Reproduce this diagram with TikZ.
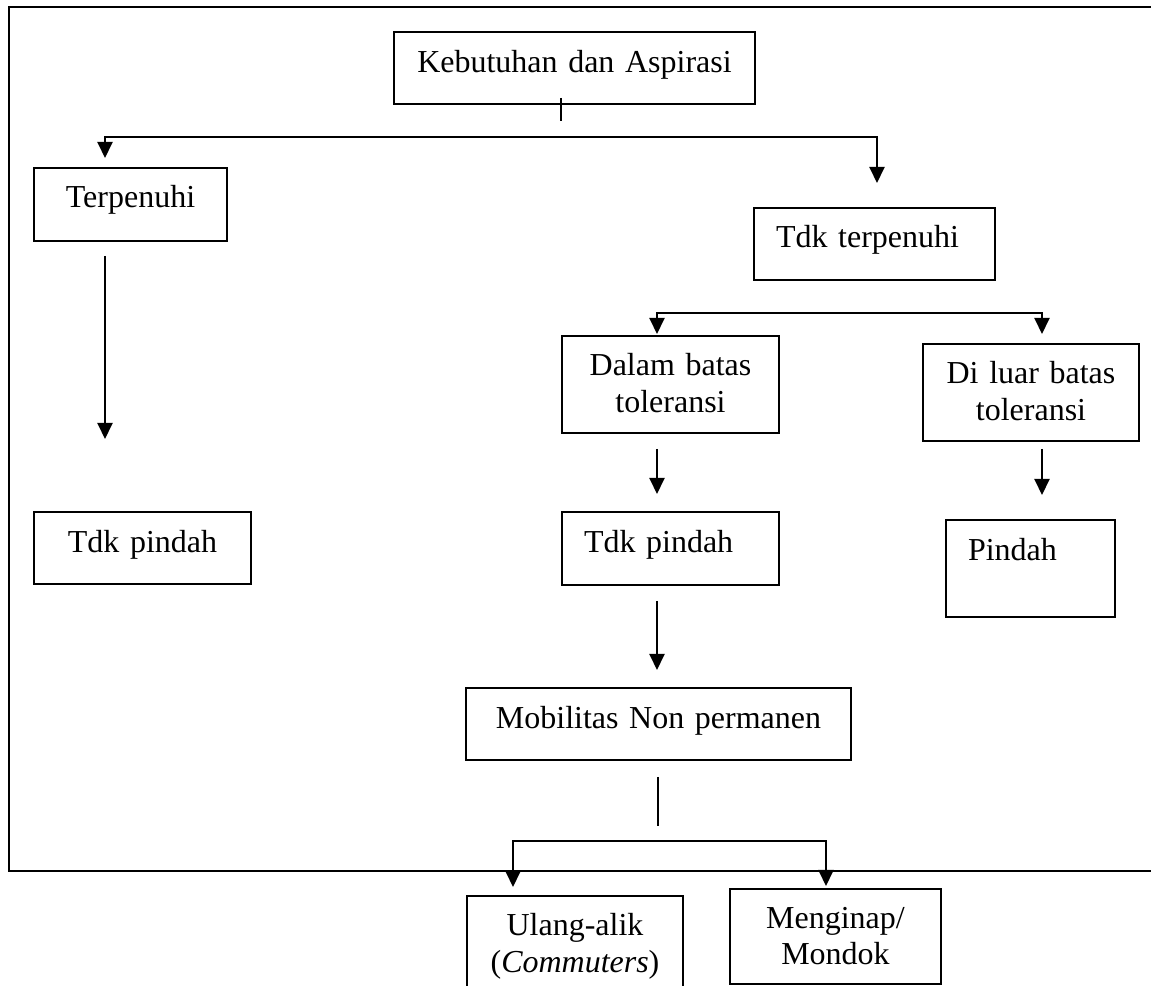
\documentclass[tikz,border=0pt]{standalone}
\usepackage{fontspec}
\setmainfont{Liberation Serif}
\usepackage{tikz}
\usetikzlibrary{positioning, calc, arrows.meta}

\begin{document}
\begin{tikzpicture}[x=0.2mm, y=-0.2mm,
    >={Triangle[width=3mm, length=3.2mm]},
    garis/.style={line width=0.4mm},
    kotak/.style={draw, line width=0.4mm, anchor=north west,
                  inner xsep=0pt, inner ysep=0pt, align=center,
                  font=\fontsize{18.2}{21}\selectfont},
    kotakkiri/.style={kotak, inner xsep=4.4mm, align=left}]
  \useasboundingbox (0,0) rectangle (1151,986);
  \clip (0,0) rectangle (1151,986);

  % frame, open on the right
  \draw[line width=0.5mm] (1170,7) -- (9,7) -- (9,871) -- (1170,871);

  \node[kotak, text width=72.2mm, text height=8.2mm, text depth=6.2mm]
        (keb) at (393,31) {Kebutuhan dan Aspirasi};
  \node[kotak, text width=38.6mm, text height=8mm, text depth=6.6mm]
        (terp) at (33,167) {Terpenuhi};
  \node[kotakkiri, text width=39.4mm, text height=8mm, text depth=6.4mm]
        (tdkterp) at (753,207) {Tdk terpenuhi};
  \node[kotak, text width=43.4mm, text height=8mm, text depth=11.4mm]
        (dalam) at (561,335) {Dalam batas\\toleransi};
  \node[kotak, text width=43.2mm, text height=8mm, text depth=11.4mm]
        (luar) at (922,343) {Di luar batas\\toleransi};
  \node[kotak, text width=43.4mm, text height=8.2mm, text depth=6.2mm]
        (tdkA) at (33,511) {Tdk pindah};
  \node[kotakkiri, text width=34.6mm, text height=8.2mm, text depth=6.4mm]
        (tdkB) at (561,511) {Tdk pindah};
  \node[kotakkiri, text width=25mm, text height=8.2mm, text depth=11.2mm]
        (pindah) at (945,519) {Pindah};
  \node[kotak, text width=77mm, text height=8.2mm, text depth=6.2mm]
        (mob) at (465,687) {Mobilitas Non permanen};
  \node[kotak, text width=43.2mm, text height=8mm, text depth=11.4mm]
        (ulang) at (466,895) {Ulang-alik\\(\textit{Commuters})};
  \node[kotak, text width=42.2mm, text height=7.8mm, text depth=11.2mm]
        (inap) at (729,888) {Menginap/\\Mondok};

  % connectors
  \draw[garis] ($(keb.south west)+(168,-7)$) -- ($(keb.south west)+(168,16)$);
  \draw[garis, <->] ($(terp.north west)+(72,-9)$) |- ($(keb.south west)+(168,32)$)
        -| ($(tdkterp.north west)+(124,-24)$);
  \draw[garis, ->] ($(terp.south west)+(72,14)$) -- ($(tdkA.north west)+(72,-72)$);
  \draw[garis, <->] ($(dalam.north west)+(96,-1)$) |- ($(tdkterp.south)+(0,32)$)
        -| ($(luar.north west)+(120,-9)$);
  \draw[garis, ->] ($(dalam.south west)+(96,15)$) -- ($(tdkB.north west)+(96,-17)$);
  \draw[garis, ->] ($(tdkB.south west)+(96,15)$) -- ($(mob.north west)+(192,-17)$);
  \draw[garis, ->] ($(luar.south west)+(120,7)$) -- ($(pindah.north west)+(97,-24)$);
  \draw[garis] ($(mob.south west)+(193,16)$) -- ($(mob.south west)+(193,65)$);
  \draw[garis, <->] ($(ulang.north west)+(47,-8)$) |- ($(mob.south west)+(193,80)$)
        -| ($(inap.north west)+(97,-2)$);
\end{tikzpicture}
\end{document}
